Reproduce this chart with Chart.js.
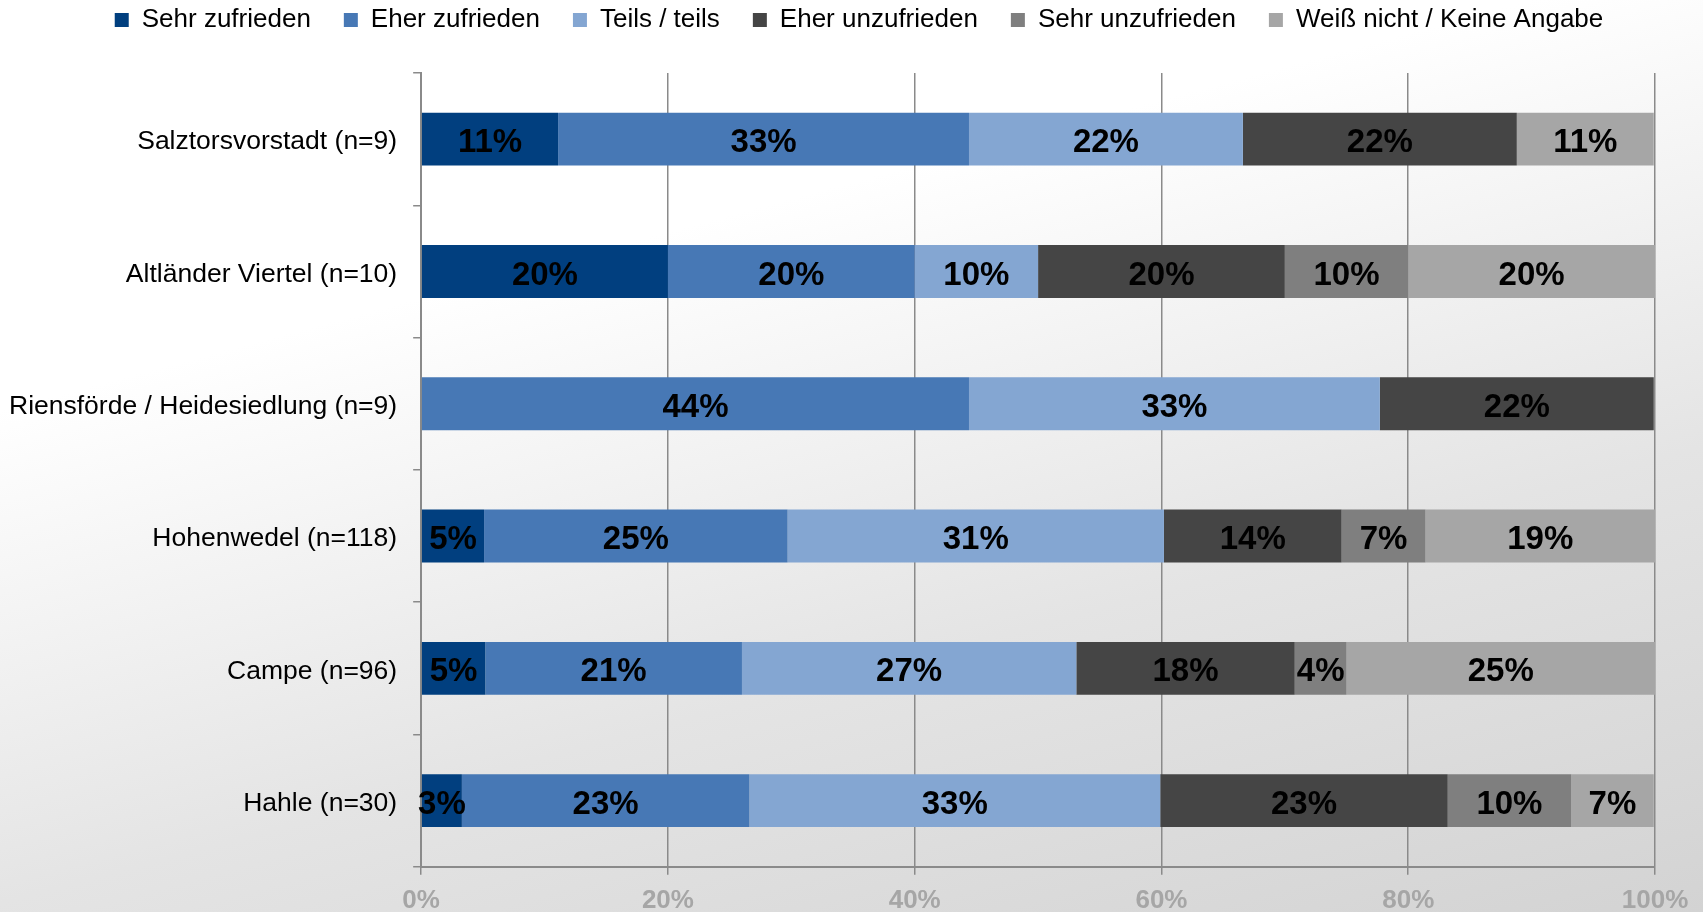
<!DOCTYPE html>
<html>
<head>
<meta charset="utf-8">
<title>Zufriedenheit nach Ortsteil</title>
<script src="https://cdn.jsdelivr.net/npm/chart.js@4.4.1/dist/chart.umd.min.js"></script>
<style>
  html, body { margin: 0; padding: 0; }
  body {
    width: 1703px;
    height: 912px;
    overflow: hidden;
    background: linear-gradient(165deg, #ffffff 0%, #ffffff 30%, #e4e4e4 66%, #d3d3d3 100%);
  }
</style>
</head>
<body>
<canvas id="chart" width="1703" height="912"></canvas>
<script>
// categories, top to bottom
var categories = [
  'Salztorsvorstadt (n=9)',
  'Altländer Viertel (n=10)',
  'Riensförde / Heidesiedlung (n=9)',
  'Hohenwedel (n=118)',
  'Campe (n=96)',
  'Hahle (n=30)'
];

var seriesNames = [
  'Sehr zufrieden',
  'Eher zufrieden',
  'Teils / teils',
  'Eher unzufrieden',
  'Sehr unzufrieden',
  'Weiß nicht / Keine Angabe'
];

// shares in percent, one value per category
var sehrZufrieden   = [11.1, 20, 0,    5.1,  5.2,  3.3];
var eherZufrieden   = [33.3, 20, 44.4, 24.6, 20.8, 23.3];
var teilsTeils      = [22.2, 10, 33.3, 30.5, 27.1, 33.3];
var eherUnzufrieden = [22.2, 20, 22.2, 14.4, 17.7, 23.3];
var sehrUnzufrieden = [0,    10, 0,    6.8,  4.2,  10.0];
var weissNicht      = [11.1, 20, 0,    18.6, 25.0, 6.7];

var xTicks = [0, 20, 40, 60, 80, 100];

var colors = ['#013f7f', '#4778b5', '#84a6d2', '#454545', '#7f7f7f', '#a6a6a6'];
var seriesValues = [sehrZufrieden, eherZufrieden, teilsTeils, eherUnzufrieden, sehrUnzufrieden, weissNicht];

Chart.defaults.font.family = '"Liberation Sans", Arial, sans-serif';
Chart.defaults.color = '#000';

// push the plot down below the legend and nudge the legend row right
var legendGap = {
  id: 'legendGap',
  beforeInit: function(chart) {
    var origFit = chart.legend.fit;
    chart.legend.fit = function() {
      origFit.call(this);
      this.height += 30;
    };
  },
  afterLayout: function(chart) {
    chart.legend.left += 35;
    chart.legend.right += 35;
  }
};

// percent labels in the middle of each segment
var segmentLabels = {
  id: 'segmentLabels',
  afterDatasetsDraw: function(chart) {
    var ctx = chart.ctx;
    ctx.save();
    ctx.font = 'bold 33px "Liberation Sans", Arial, sans-serif';
    ctx.fillStyle = '#000';
    ctx.textAlign = 'center';
    ctx.textBaseline = 'middle';
    chart.data.datasets.forEach(function(ds, i) {
      var meta = chart.getDatasetMeta(i);
      meta.data.forEach(function(bar, j) {
        var v = ds.data[j];
        if (!v) return;
        var p = bar.getCenterPoint();
        ctx.fillText(Math.round(v) + '%', p.x, p.y + 4);
      });
    });
    ctx.restore();
  }
};

var datasets = seriesNames.map(function(name, i) {
  return {
    label: name,
    data: seriesValues[i],
    backgroundColor: colors[i],
    borderWidth: 0,
    barPercentage: 0.4,
    categoryPercentage: 1.0
  };
});

new Chart(document.getElementById('chart').getContext('2d'), {
  type: 'bar',
  data: { labels: categories, datasets: datasets },
  plugins: [legendGap, segmentLabels],
  options: {
    responsive: false,
    animation: false,
    indexAxis: 'y',
    layout: { padding: { top: -26, left: -7, right: 48, bottom: -14 } },
    plugins: {
      tooltip: { enabled: false },
      legend: {
        position: 'top',
        labels: {
          boxWidth: 14,
          boxHeight: 14,
          padding: 33,
          color: '#000',
          font: { size: 26 }
        }
      }
    },
    scales: {
      x: {
        stacked: true,
        min: 0,
        max: 100,
        afterBuildTicks: function(axis) {
          axis.ticks = xTicks.map(function(v) { return { value: v }; });
        },
        grid: { color: '#8a8a8a', lineWidth: 1.5, tickLength: 8 },
        border: { display: true, color: '#8a8a8a', width: 2 },
        ticks: {
          padding: 10,
          color: '#a6a6a6',
          font: { size: 26, weight: 'bold' },
          callback: function(v) { return v + '%'; }
        }
      },
      y: {
        stacked: true,
        grid: { drawOnChartArea: false, offset: true, color: '#8a8a8a', lineWidth: 1.5, tickLength: 8 },
        border: { display: true, color: '#8a8a8a', width: 2 },
        ticks: { padding: 16, labelOffset: 3, color: '#000', font: { size: 26.5 } }
      }
    }
  }
});
</script>
</body>
</html>
